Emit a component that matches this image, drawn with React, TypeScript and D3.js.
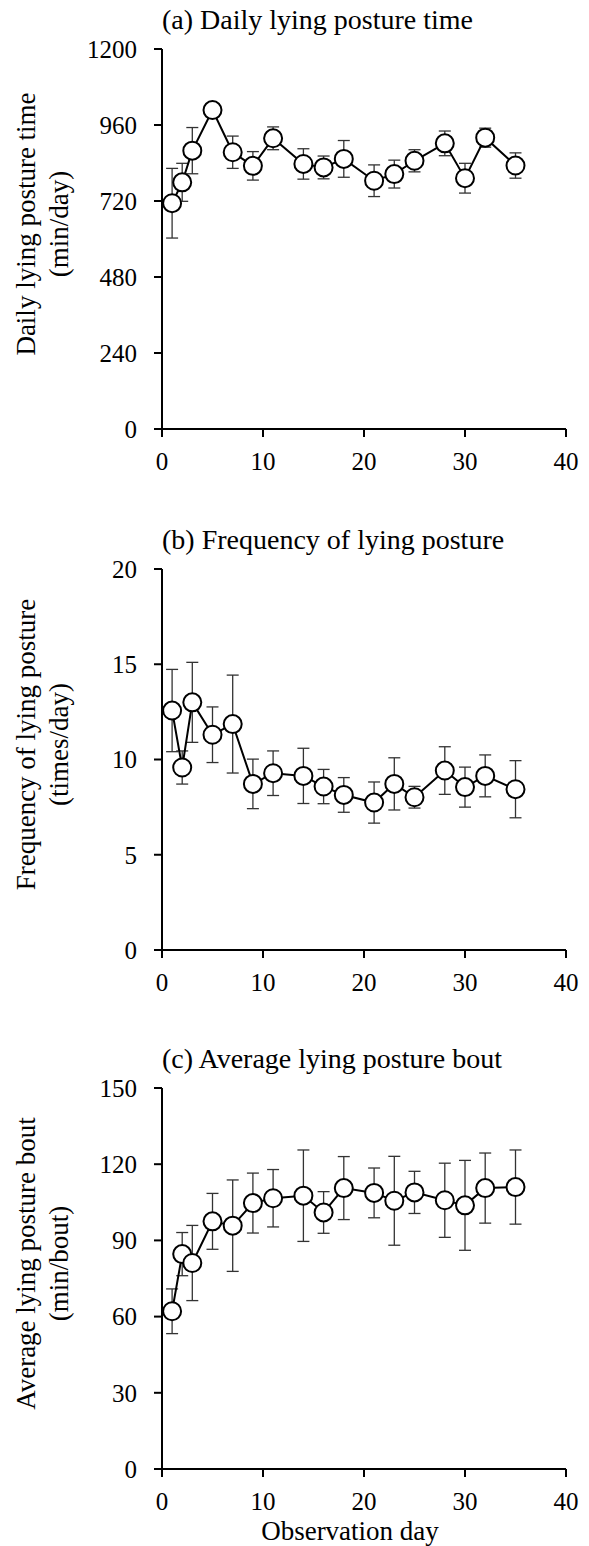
import React from "react";
import * as d3 from "d3";

const days = [1, 2, 3, 5, 7, 9, 11, 14, 16, 18, 21, 23, 25, 28, 30, 32, 35];

const lyingTime = [713, 779, 879, 1007, 874, 831, 918, 837, 826, 853, 784, 805, 847, 902, 792, 920, 832];
const lyingTimeErr = [110, 60, 73, 10, 51, 45, 36, 48, 36, 58, 50, 44, 35, 39, 47, 30, 40];

const lyingFreq = [12.57, 9.58, 13.0, 11.3, 11.86, 8.72, 9.28, 9.14, 8.58, 8.14, 7.74, 8.72, 8.02, 9.42, 8.55, 9.14, 8.44];
const lyingFreqErr = [2.16, 0.87, 2.1, 1.46, 2.57, 1.3, 1.17, 1.45, 0.9, 0.91, 1.08, 1.37, 0.57, 1.25, 1.05, 1.1, 1.5];

const lyingBout = [62.1, 84.6, 81.1, 97.5, 95.8, 104.7, 106.6, 107.6, 101.0, 110.6, 108.7, 105.6, 108.9, 105.8, 103.8, 110.6, 111.0];
const lyingBoutErr = [8.8, 8.5, 14.8, 11.0, 18.0, 11.8, 11.3, 18.0, 8.2, 12.4, 9.8, 17.5, 8.3, 14.6, 17.7, 13.8, 14.6];

const xTicks = [0, 10, 20, 30, 40];
const aTicks = [0, 240, 480, 720, 960, 1200];
const bTicks = [0, 5, 10, 15, 20];
const cTicks = [0, 30, 60, 90, 120, 150];

const titles = ["(a) Daily lying posture time", "(b) Frequency of lying posture", "(c) Average lying posture bout"];
const yLabels1 = ["Daily lying posture time", "Frequency of lying posture", "Average lying posture bout"];
const yLabels2 = ["(min/day)", "(times/day)", "(min/bout)"];
const xLabel = "Observation day";

const FONT = "'Liberation Serif', 'Times New Roman', serif";

const X0 = 162;
const X1 = 566;

type PanelProps = {
  top: number;
  bottom: number;
  means: number[];
  errs: number[];
  ticks: number[];
  title: string;
  label1: string;
  label2: string;
  showX: boolean;
};

function Panel({ top, bottom, means, errs, ticks, title, label1, label2, showX }: PanelProps) {
  const x = d3.scaleLinear().domain([0, 40]).range([X0, X1]);
  const y = d3.scaleLinear().domain([ticks[0], ticks[ticks.length - 1]]).range([bottom, top]);
  const line = d3
    .line<number>()
    .x((_, i) => x(days[i]))
    .y((d) => y(d));
  const cy = (top + bottom) / 2 - 15;
  return (
    <g>
      <text x={X0} y={top - 20} fontSize={28} fontFamily={FONT} fill="#000">
        {title}
      </text>
      <text
        transform={`translate(26,${cy}) rotate(-90)`}
        textAnchor="middle"
        dy="0.35em"
        fontSize={27}
        fontFamily={FONT}
        fill="#000"
      >
        {label1}
      </text>
      <text
        transform={`translate(59,${cy}) rotate(-90)`}
        textAnchor="middle"
        dy="0.35em"
        fontSize={27}
        fontFamily={FONT}
        fill="#000"
      >
        {label2}
      </text>
      {/* y axis */}
      <line x1={X0} x2={X0} y1={top} y2={bottom} stroke="#000" strokeWidth={2} />
      {ticks.map((t) => (
        <g key={"yt" + t}>
          <line x1={X0 - 8} x2={X0} y1={y(t)} y2={y(t)} stroke="#000" strokeWidth={2} />
          <text x={137} y={y(t)} dy="0.35em" textAnchor="end" fontSize={25} fontFamily={FONT} fill="#000">
            {t}
          </text>
        </g>
      ))}
      {/* x axis */}
      <line x1={X0} x2={X1} y1={bottom} y2={bottom} stroke="#000" strokeWidth={2} />
      {xTicks.map((t) => (
        <g key={"xt" + t}>
          <line x1={x(t)} x2={x(t)} y1={bottom} y2={bottom + 8} stroke="#000" strokeWidth={2} />
          <text x={x(t)} y={bottom + 41} textAnchor="middle" fontSize={25} fontFamily={FONT} fill="#000">
            {t}
          </text>
        </g>
      ))}
      {showX && (
        <text x={350} y={bottom + 71} textAnchor="middle" fontSize={27} fontFamily={FONT} fill="#000">
          {xLabel}
        </text>
      )}
      {/* error bars */}
      {means.map((m, i) => {
        const cx = x(days[i]);
        const yt = y(m + errs[i]);
        const yb = y(m - errs[i]);
        return (
          <g key={"e" + i} stroke="#333" strokeWidth={1.3}>
            <line x1={cx} x2={cx} y1={yt} y2={yb} />
            <line x1={cx - 6} x2={cx + 6} y1={yt} y2={yt} />
            <line x1={cx - 6} x2={cx + 6} y1={yb} y2={yb} />
          </g>
        );
      })}
      <path d={line(means) || ""} fill="none" stroke="#000" strokeWidth={2} />
      {means.map((m, i) => (
        <circle key={"c" + i} cx={x(days[i])} cy={y(m)} r={9} fill="#fff" stroke="#000" strokeWidth={2} />
      ))}
    </g>
  );
}

export default function App() {
  return (
    <svg
      width={589}
      height={1546}
      style={{ position: "absolute", left: 0, top: 0, background: "#fff" }}
    >
      <rect width={589} height={1546} fill="#fff" />
      <Panel top={49} bottom={429} means={lyingTime} errs={lyingTimeErr} ticks={aTicks} title={titles[0]} label1={yLabels1[0]} label2={yLabels2[0]} showX={false} />
      <Panel top={569} bottom={950} means={lyingFreq} errs={lyingFreqErr} ticks={bTicks} title={titles[1]} label1={yLabels1[1]} label2={yLabels2[1]} showX={false} />
      <Panel top={1088} bottom={1469} means={lyingBout} errs={lyingBoutErr} ticks={cTicks} title={titles[2]} label1={yLabels1[2]} label2={yLabels2[2]} showX={true} />
    </svg>
  );
}
